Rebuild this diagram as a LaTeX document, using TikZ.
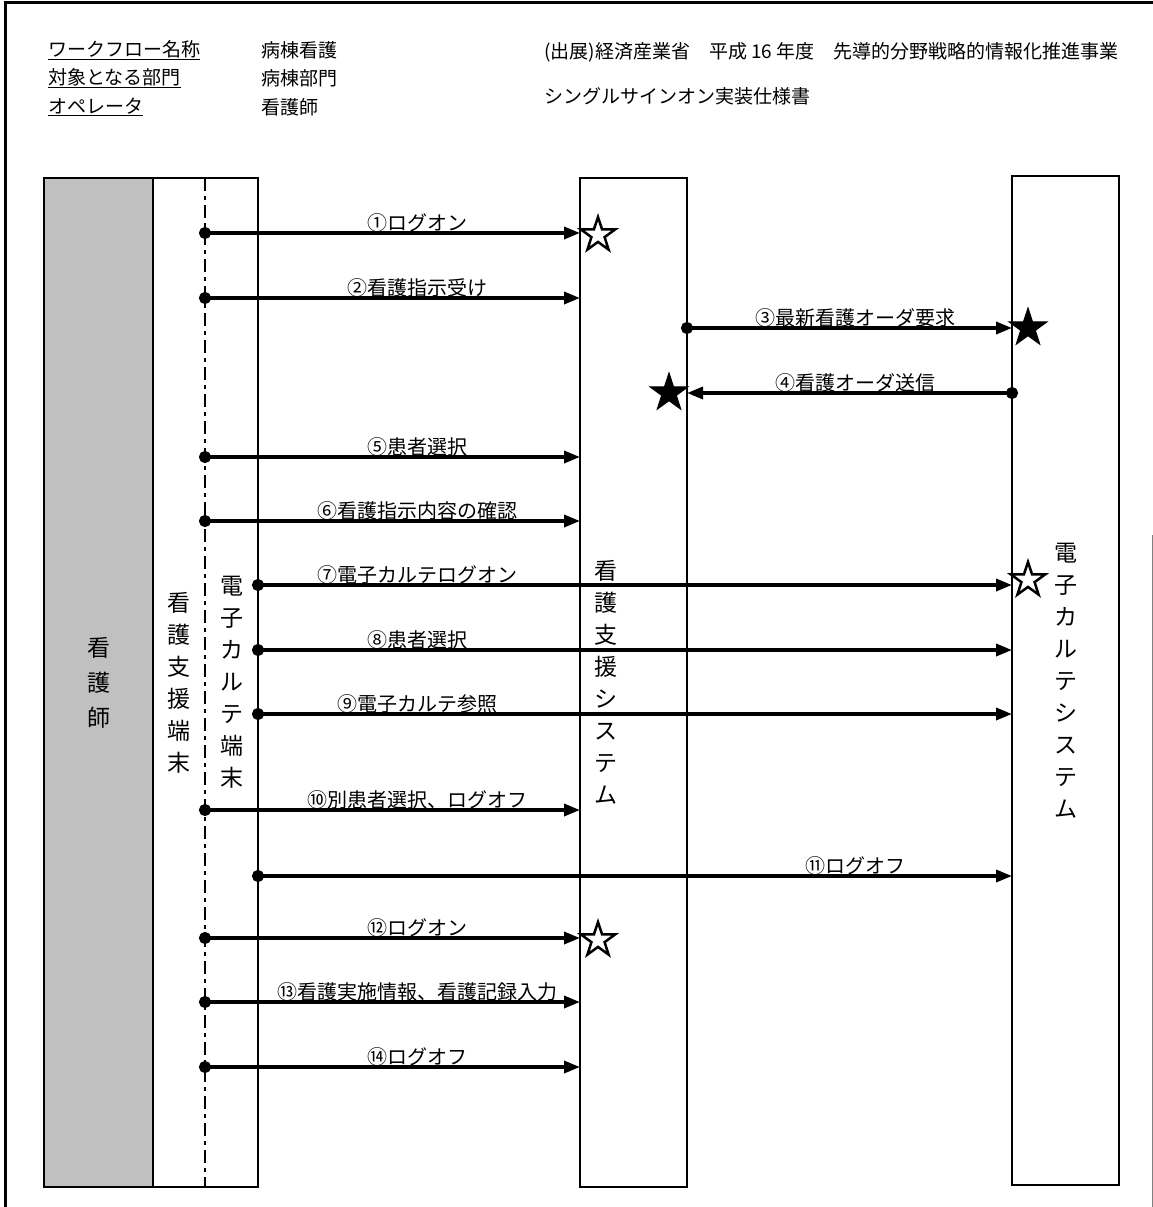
\documentclass[tikz,border=0pt]{standalone}
\usepackage{fontspec}
\setmainfont{Noto Sans CJK JP}
\usetikzlibrary{positioning,shapes.geometric,arrows.meta}
\definecolor{lanegray}{HTML}{C0C0C0}
\tikzset{
  lane/.style  = {draw, line width=2.5pt, inner sep=0pt, outer sep=0pt, minimum height=1009pt, align=center, font=\fontsize{23}{32}\selectfont},
  half/.style  = {lane, draw=none, minimum width=52pt},
  msg/.style   = {line width=3.5pt, {Circle[length=12pt]}-{Triangle[length=16pt,width=12pt]}, shorten <=-6pt},
  lbl/.style   = {anchor=base, inner sep=0pt, yshift=3pt, font=\fontsize{20}{20}\selectfont},
  head/.style  = {anchor=west, inner sep=0pt, font=\fontsize{19}{19}\selectfont},
  wstar/.style = {star, star points=5, star point ratio=2.6, draw, line width=2.5pt, minimum size=36pt, inner sep=0pt},
  bstar/.style = {wstar, fill=black, line width=1pt, minimum size=40pt},
}

\begin{document}
\begin{tikzpicture}[x=1pt, y=-1pt]
    \useasboundingbox (0,0) rectangle (1153,1207);
    % frame
    \draw[line width=3pt] (5,1207) -- (5,3) -- (1153,3);
    \draw[line width=1pt, gray] (1152,535) -- (1152,1207);

    % header
    \node[head] (wfK) at (48,50) {\underline{ワークフロー名称}};
    \node[head] (dpK) at (48,78) {\underline{対象となる部門}};
    \node[head] (opK) at (48,107) {\underline{オペレータ}};
    \node[head] (wfV) at (261,50) {病棟看護};
    \node[head] (dpV) at (261,78) {病棟部門};
    \node[head] (opV) at (261,107) {看護師};
    \node[head] (src) at (544,52) {(出展)経済産業省　平成 16 年度　先導的分野戦略的情報化推進事業};
    \node[head] (doc) at (544,96) {シングルサインオン実装仕様書};

    % lanes
    \node[lane, fill=lanegray, minimum width=109pt, font=\fontsize{23}{35}\selectfont] (nurse) at (98.5,682.5) {看\\護\\師};
    \node[half, right=0pt of nurse] (nst) {看\\護\\支\\援\\端\\末};
    \node[half, minimum width=53pt, right=0pt of nst] (ekt) {電\\子\\カ\\ル\\テ\\端\\末};
    \draw[line width=2.5pt] (nst.north west) rectangle (ekt.south east);
    \draw[line width=2pt, dash pattern=on 13pt off 5pt on 4pt off 5pt] (nst.north east) -- (nst.south east);
    \node[lane, minimum width=107pt] (nss) at (633.5,682.5) {};
    \node[align=center, font=\fontsize{23}{32}\selectfont] (nssT) at ([xshift=-28pt]nss.center) {看\\護\\支\\援\\シ\\ス\\テ\\ム};
    \node[lane, minimum width=107pt] (ecs) at (1065.5,680.5) {電\\子\\カ\\ル\\テ\\シ\\ス\\テ\\ム};

    % rows
    \coordinate (midL) at (417,0);
    \coordinate (midR) at (855,0);
    \coordinate (r1) at (0,233);
    \coordinate (r2) at (0,298);
    \coordinate (r3) at (0,328);
    \coordinate (r4) at (0,393);
    \coordinate (r5) at (0,457);
    \coordinate (r6) at (0,521);
    \coordinate (r7) at (0,585);
    \coordinate (r8) at (0,650);
    \coordinate (r9) at (0,714);
    \coordinate (r10) at (0,810);
    \coordinate (r11) at (0,876);
    \coordinate (r12) at (0,938);
    \coordinate (r13) at (0,1002);
    \coordinate (r14) at (0,1067);

    % messages
    \draw[msg] (nst.east |- r1) -- (nss.west |- r1);
    \node[lbl] (m1) at (midL |- r1) {①ログオン};
    \draw[msg] (nst.east |- r2) -- (nss.west |- r2);
    \node[lbl] (m2) at (midL |- r2) {②看護指示受け};
    \draw[msg] (nss.east |- r3) -- (ecs.west |- r3);
    \node[lbl] (m3) at (midR |- r3) {③最新看護オーダ要求};
    \draw[msg] (ecs.west |- r4) -- (nss.east |- r4);
    \node[lbl] (m4) at (midR |- r4) {④看護オーダ送信};
    \draw[msg] (nst.east |- r5) -- (nss.west |- r5);
    \node[lbl] (m5) at (midL |- r5) {⑤患者選択};
    \draw[msg] (nst.east |- r6) -- (nss.west |- r6);
    \node[lbl] (m6) at (midL |- r6) {⑥看護指示内容の確認};
    \draw[msg] (ekt.east |- r7) -- (ecs.west |- r7);
    \node[lbl] (m7) at (midL |- r7) {⑦電子カルテログオン};
    \draw[msg] (ekt.east |- r8) -- (ecs.west |- r8);
    \node[lbl] (m8) at (midL |- r8) {⑧患者選択};
    \draw[msg] (ekt.east |- r9) -- (ecs.west |- r9);
    \node[lbl] (m9) at (midL |- r9) {⑨電子カルテ参照};
    \draw[msg] (nst.east |- r10) -- (nss.west |- r10);
    \node[lbl] (m10) at (midL |- r10) {⑩別患者選択、ログオフ};
    \draw[msg] (ekt.east |- r11) -- (ecs.west |- r11);
    \node[lbl] (m11) at (midR |- r11) {⑪ログオフ};
    \draw[msg] (nst.east |- r12) -- (nss.west |- r12);
    \node[lbl] (m12) at (midL |- r12) {⑫ログオン};
    \draw[msg] (nst.east |- r13) -- (nss.west |- r13);
    \node[lbl] (m13) at (midL |- r13) {⑬看護実施情報、看護記録入力};
    \draw[msg] (nst.east |- r14) -- (nss.west |- r14);
    \node[lbl] (m14) at (midL |- r14) {⑭ログオフ};

    % stars
    \node[wstar] (s1) at ([xshift=18pt,yshift=-2pt]nss.west |- r1) {};
    \node[bstar] (s3) at ([xshift=16pt]ecs.west |- r3) {};
    \node[bstar] (s4) at ([xshift=-18pt]nss.east |- r4) {};
    \node[wstar] (s7) at ([xshift=16pt,yshift=5pt]ecs.west |- r7) {};
    \node[wstar] (s12) at ([xshift=18pt,yshift=-2pt]nss.west |- r12) {};
\end{tikzpicture}
\end{document}
